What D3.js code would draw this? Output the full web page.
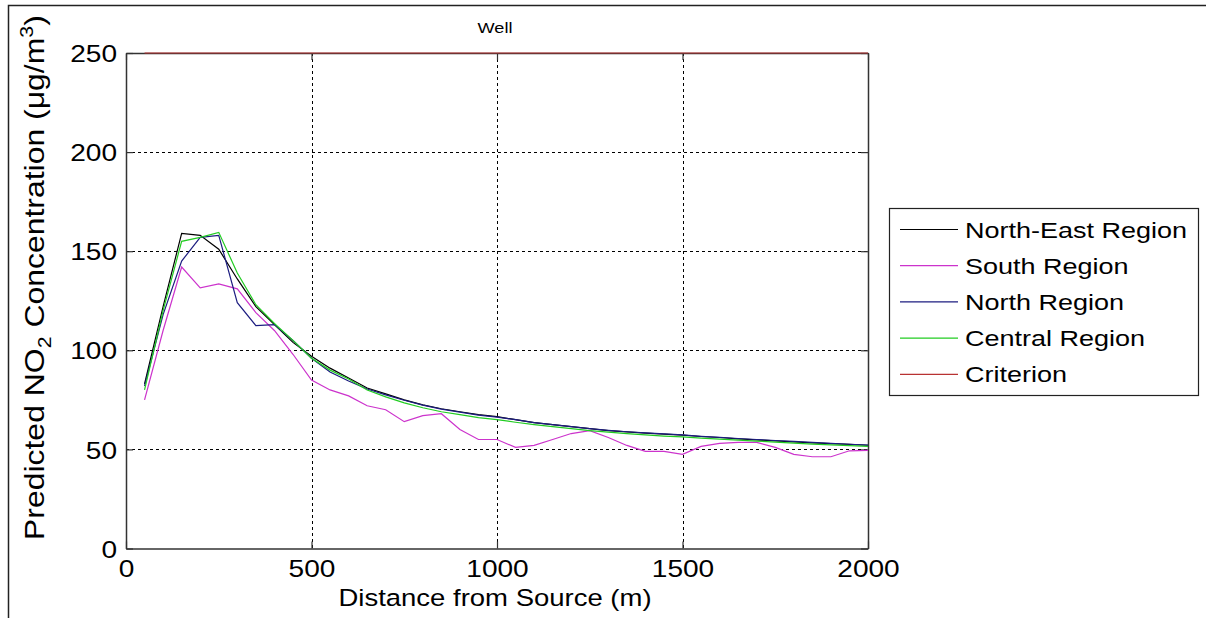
<!DOCTYPE html>
<html>
<head>
<meta charset="utf-8">
<script src="https://cdn.jsdelivr.net/npm/d3@7"></script>
<style>
  html, body { margin: 0; padding: 0; background: #fff; }
  svg { display: block; font-family: "Liberation Sans", Arial, Helvetica, sans-serif; }
</style>
</head>
<body>
<div class="js-chart"></div>
<script>
var distances = [50, 100, 150, 200, 250, 300, 350, 400, 450, 500,
    550, 600, 650, 700, 750, 800, 850, 900, 950, 1000,
    1050, 1100, 1150, 1200, 1250, 1300, 1350, 1400, 1450, 1500,
    1550, 1600, 1650, 1700, 1750, 1800, 1850, 1900, 1950, 2000];

var northEast = [83, 122, 159, 158, 151, 136, 122, 113, 104, 97,
    91, 86, 81, 78, 75, 72.5, 70.5, 69, 67.5, 66.5,
    65, 63.5, 62.5, 61.5, 60.5, 59.5, 58.8, 58.2, 57.7, 57.2,
    56.5, 56, 55.3, 54.8, 54.3, 53.8, 53.3, 52.9, 52.5, 52.1];

var south = [75, 110, 142, 131.5, 133.5, 131, 119, 110, 98, 85,
    80, 77, 72, 70, 64, 67, 68, 60, 55, 55,
    51, 52, 55, 58, 59.5, 56, 52, 49, 49, 47.5,
    51.5, 53, 53.5, 53.5, 51, 47.5, 46.3, 46.3, 49.3, 49.5];

var north = [82, 118, 145, 157, 158, 124, 112.5, 113, 105, 96,
    89, 84.5, 80.5, 77.5, 74.8, 72.3, 70.3, 68.8, 67.3, 66.3,
    65, 63.5, 62.5, 61.5, 60.5, 59.6, 58.9, 58.3, 57.8, 57.3,
    56.6, 56.1, 55.5, 55, 54.5, 54, 53.5, 53, 52.6, 52.2];

var central = [80, 120, 155, 157, 159.5, 139, 123, 113.5, 105, 96,
    90, 85.5, 80, 76.5, 73.5, 71, 69, 67.5, 66, 65,
    63.7, 62.5, 61.5, 60.5, 59.5, 58.7, 58, 57.3, 56.7, 56.3,
    55.7, 55.2, 54.7, 54.2, 53.7, 53.2, 52.7, 52.3, 51.9, 51.5];

var criterion = [250, 250, 250, 250, 250, 250, 250, 250, 250, 250,
    250, 250, 250, 250, 250, 250, 250, 250, 250, 250,
    250, 250, 250, 250, 250, 250, 250, 250, 250, 250,
    250, 250, 250, 250, 250, 250, 250, 250, 250, 250];

var seriesNames = ['North-East Region', 'South Region', 'North Region', 'Central Region', 'Criterion'];
var seriesColors = ['#000000', '#cc33cc', '#1c1c80', '#22cc22', '#b83232'];
var xTicks = [0, 500, 1000, 1500, 2000];
var yTicks = [0, 50, 100, 150, 200, 250];

var allSeries = [northEast, south, north, central, criterion];

var W = 1206, H = 618;
var plot = { left: 126, right: 868, top: 53, bottom: 548.5 };
var kx = 1.17; // the source picture is a little wide for its type

var svg = d3.select('.js-chart')
    .append('svg')
    .attr('width', W)
    .attr('height', H);

// outer frame (only top and left edges show)
svg.append('path')
    .attr('d', 'M8.5,618V5.5H1206')
    .attr('fill', 'none')
    .attr('stroke', '#222')
    .attr('stroke-width', 1.5);

var x = d3.scaleLinear().domain([0, 2000]).range([plot.left, plot.right]);
var y = d3.scaleLinear().domain([0, 250]).range([plot.bottom, plot.top]);

// grid
var grid = svg.append('g')
    .attr('stroke', '#000')
    .attr('stroke-width', 1)
    .attr('stroke-dasharray', '3,3');

grid.selectAll('.vg')
    .data(xTicks.slice(1, -1))
    .enter()
    .append('line')
        .attr('x1', function(d) { return Math.round(x(d)) + 0.5; })
        .attr('x2', function(d) { return Math.round(x(d)) + 0.5; })
        .attr('y1', plot.top)
        .attr('y2', plot.bottom);

grid.selectAll('.hg')
    .data(yTicks.slice(1, -1))
    .enter()
    .append('line')
        .attr('y1', function(d) { return Math.round(y(d)) + 0.5; })
        .attr('y2', function(d) { return Math.round(y(d)) + 0.5; })
        .attr('x1', plot.left)
        .attr('x2', plot.right);

// axes, ticks inward on all sides
var fmt = d3.format('d');
var xAxisB = d3.axisBottom(x).tickValues(xTicks).tickFormat(fmt).tickSizeInner(-7).tickSizeOuter(0).tickPadding(10);
var xAxisT = d3.axisTop(x).tickValues(xTicks).tickSizeInner(-7).tickSizeOuter(0).tickFormat('');
var yAxisL = d3.axisLeft(y).tickValues(yTicks).tickFormat(fmt).tickSizeInner(-7).tickSizeOuter(0).tickPadding(9);
var yAxisR = d3.axisRight(y).tickValues(yTicks).tickSizeInner(-7).tickSizeOuter(0).tickFormat('');

var gB = svg.append('g').attr('transform', 'translate(0,' + plot.bottom + ')').call(xAxisB);
var gT = svg.append('g').attr('transform', 'translate(0,' + plot.top + ')').call(xAxisT);
var gL = svg.append('g').attr('transform', 'translate(' + plot.left + ',0)').call(yAxisL);
var gR = svg.append('g').attr('transform', 'translate(' + plot.right + ',0)').call(yAxisR);

[gB, gT, gL, gR].forEach(function(g) {
    g.select('.domain').attr('stroke', '#333').attr('stroke-width', 1.5);
    g.selectAll('.tick line').attr('stroke', '#333').attr('stroke-width', 1.2);
    g.selectAll('text')
        .attr('fill', '#000')
        .style('font-size', '24px')
        .style('font-family', '"Liberation Sans", Arial, sans-serif');
});

gB.selectAll('text')
    .attr('dy', null)
    .attr('y', 28.5)
    .attr('transform', 'scale(' + kx + ',1)');

gL.selectAll('text')
    .attr('dy', '0.36em')
    .attr('x', -9 / kx)
    .attr('transform', 'scale(' + kx + ',1)');

// lines
var line = d3.line()
    .x(function(d, i) { return x(distances[i]); })
    .y(function(d) { return y(d); });

svg.append('g')
    .selectAll('path')
    .data(allSeries)
    .enter()
    .append('path')
        .attr('d', line)
        .attr('fill', 'none')
        .attr('stroke', function(d, i) { return seriesColors[i]; })
        .attr('stroke-width', 1.2);

// title
svg.append('text')
    .attr('transform', 'translate(495,33) scale(' + kx + ',1)')
    .attr('text-anchor', 'middle')
    .style('font-size', '15.5px')
    .text('Well');

// x label
svg.append('text')
    .attr('transform', 'translate(495,606) scale(' + kx + ',1)')
    .attr('text-anchor', 'middle')
    .style('font-size', '23.5px')
    .text('Distance from Source (m)');

// y label with sub/superscript
var yl = svg.append('text')
    .attr('text-anchor', 'start')
    .style('font-size', '27px');
yl.append('tspan').text('Predicted NO');
yl.append('tspan').attr('dy', 7).style('font-size', '18px').text('2');
yl.append('tspan').attr('dy', -7).text(' Concentration (\u03BCg/m');
yl.append('tspan').attr('dy', -11).style('font-size', '18px').text('3');
yl.append('tspan').attr('dy', 11).text(')');
var ylLen = yl.node().getComputedTextLength();
yl.attr('transform', 'translate(44,540) rotate(-90) scale(' + (525 / ylLen) + ',1)');

// legend
var leg = svg.append('g').attr('transform', 'translate(889,208)');
leg.append('rect')
    .attr('x', 0.5)
    .attr('y', 0.5)
    .attr('width', 309)
    .attr('height', 187)
    .attr('fill', '#fff')
    .attr('stroke', '#222')
    .attr('stroke-width', 1.2);

var rows = leg.selectAll('.row')
    .data(seriesNames)
    .enter()
    .append('g')
        .attr('transform', function(d, i) { return 'translate(0,' + (21.5 + i * 36.2) + ')'; });

rows.append('line')
    .attr('x1', 11)
    .attr('x2', 69)
    .attr('stroke', function(d, i) { return seriesColors[i]; })
    .attr('stroke-width', 1.2);

rows.append('text')
    .attr('transform', 'translate(76,8) scale(1.2,1)')
    .style('font-size', '22.5px')
    .text(function(d) { return d; });
</script>
</body>
</html>
